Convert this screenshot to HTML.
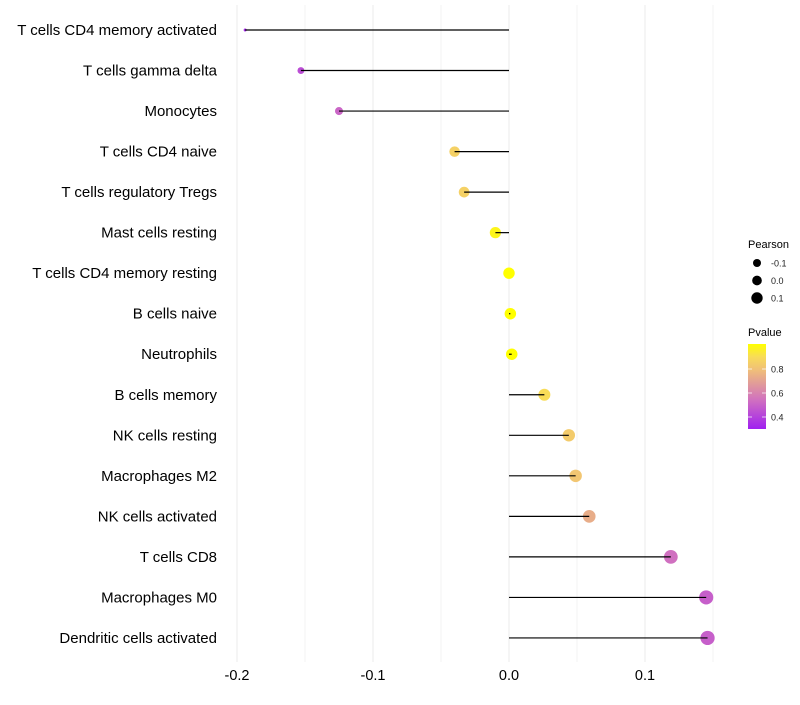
<!DOCTYPE html>
<html><head><meta charset="utf-8"><style>
body{margin:0;background:#fff;font-family:"Liberation Sans",sans-serif}
</style></head><body>
<svg id="c" width="800" height="700" xmlns="http://www.w3.org/2000/svg">
<defs><linearGradient id="pg" x1="0" y1="1" x2="0" y2="0">
<stop offset="0" stop-color="#a020f0"/><stop offset="0.34" stop-color="#d070c0"/><stop offset="0.7" stop-color="#f0c078"/><stop offset="0.85" stop-color="#f8dc58"/><stop offset="1" stop-color="#ffff00"/></linearGradient></defs>
</svg>
<script>
const categories=["T cells CD4 memory activated","T cells gamma delta","Monocytes","T cells CD4 naive","T cells regulatory  Tregs ","Mast cells resting","T cells CD4 memory resting","B cells naive","Neutrophils","B cells memory","NK cells resting","Macrophages M2","NK cells activated","T cells CD8","Macrophages M0","Dendritic cells activated"];
const pearson=[-0.194,-0.153,-0.125,-0.040,-0.033,-0.010,0.000,0.001,0.002,0.026,0.044,0.049,0.059,0.119,0.145,0.146];
const pvalue=[0.35,0.45,0.52,0.86,0.86,0.97,1.0,1.0,1.0,0.9,0.84,0.82,0.74,0.55,0.5,0.5];
const xTicks=[-0.2,-0.1,0.0,0.1];
const legendSizes=[-0.1,0.0,0.1];
const legendP=[0.8,0.6,0.4];
const svg=document.getElementById('c');const NS="http://www.w3.org/2000/svg";
const X=v=>509+v*1360;
const Y=i=>30+i*40.53;
const R=v=>1.5+5.6*Math.sqrt(Math.max(0,(v+0.194)/0.34));
function col(p){const s=[[0.32,[160,32,240]],[0.55,[208,112,192]],[0.8,[240,192,120]],[0.9,[248,220,88]],[1.0,[255,255,0]]];
p=Math.max(0.32,Math.min(1,p));for(let k=0;k<s.length-1;k++){if(p<=s[k+1][0]){const t=(p-s[k][0])/(s[k+1][0]-s[k][0]);const a=s[k][1],b=s[k+1][1];return `rgb(${a.map((x,j)=>Math.round(x+(b[j]-x)*t)).join(',')})`;}}return 'rgb(255,255,0)';}
function el(t,a,txt){const e=document.createElementNS(NS,t);for(const k in a)e.setAttribute(k,a[k]);if(txt!==undefined)e.textContent=txt;svg.appendChild(e);return e;}
for(let k=0;k<8;k++){const v=-0.2+k*0.05;const g=el('line',{x1:X(v),x2:X(v),y1:5,y2:662,stroke:'#ebebeb','stroke-width':k%2==0?1:0.6});

}
xTicks.forEach(v=>{const t=el('text',{x:X(v),y:680,'text-anchor':'middle','font-size':14.5,fill:'#000'},v.toFixed(1));

});
categories.forEach((c,i)=>{const y=Y(i);
const t=el('text',{x:217,y:y+5,'text-anchor':'end','font-size':15,fill:'#000'},c);


const d=el('circle',{cx:X(pearson[i]),cy:y,r:R(pearson[i]),fill:col(pvalue[i])});


const l=el('line',{x1:X(0),x2:X(pearson[i]),y1:y,y2:y,stroke:'#000','stroke-width':1.2});

});
const lt=el('text',{x:748,y:248,'font-size':11,fill:'#000'},'Pearson');


legendSizes.forEach((v,k)=>{const y=263+k*17.5;const c=el('circle',{cx:757,cy:y,r:4+k*0.85,fill:'#000'});


const t=el('text',{x:771,y:y+3.5,'font-size':9,fill:'#222'},v.toFixed(1));

});
const pt=el('text',{x:748,y:336,'font-size':11,fill:'#000'},'Pvalue');


const cb=el('rect',{x:748,y:344,width:18,height:85,fill:'url(#pg)'});


const PY=p=>369+(0.8-p)*120;
legendP.forEach(p=>{const y=PY(p);el('line',{x1:748,x2:752,y1:y,y2:y,stroke:'#fff','stroke-width':1,opacity:0.7});el('line',{x1:762,x2:766,y1:y,y2:y,stroke:'#fff','stroke-width':1,opacity:0.7});
const t=el('text',{x:771,y:y+3.5,'font-size':9,fill:'#222'},p.toFixed(1));

});
</script>
</body></html>
